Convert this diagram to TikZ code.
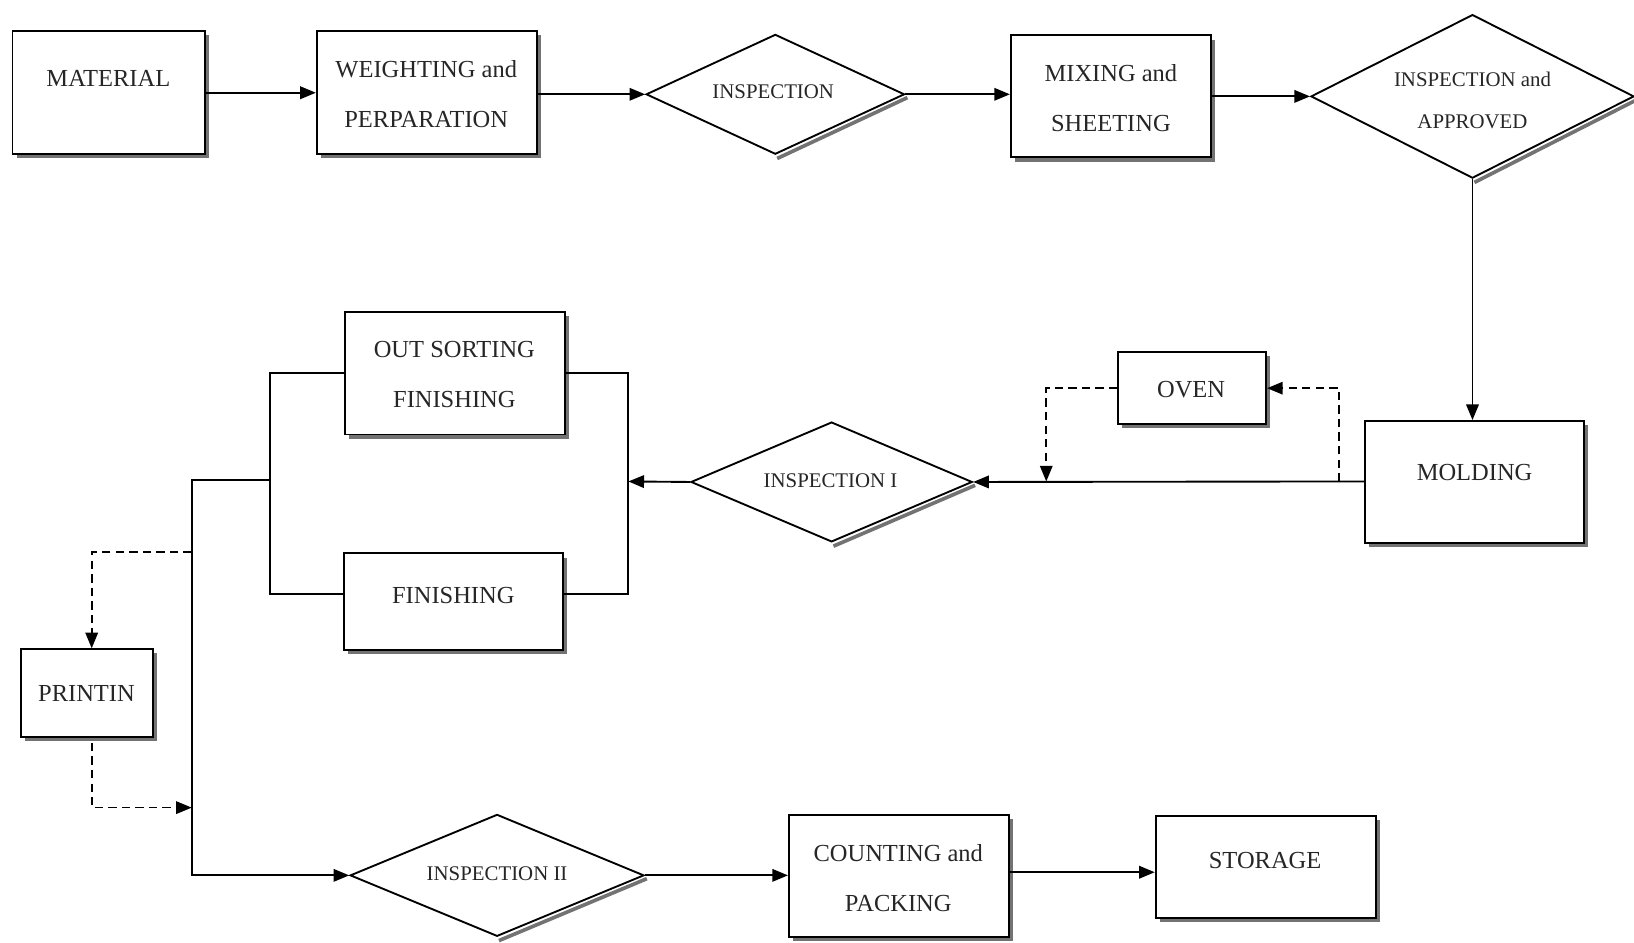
\documentclass[tikz,border=0pt]{standalone}
\usepackage{fontspec}
\setmainfont{Liberation Serif}
\usetikzlibrary{shapes.geometric,arrows.meta,shadows}
\begin{document}
\begin{tikzpicture}[x=1pt,y=-1pt,
  box/.style={rectangle, draw=black, line width=1.8pt, fill=white, inner sep=0pt,
    drop shadow={shadow xshift=4pt, shadow yshift=-4pt, fill=black!55, opacity=1}},
  dia/.style={diamond, draw=black, line width=1.8pt, fill=white, inner sep=0pt},
  btxt/.style={font=\fontsize{23.5}{48}\selectfont, align=center, inner sep=0pt, text=black!85},
  dtxt/.style={font=\fontsize{20}{41}\selectfont, align=center, inner sep=0pt, text=black!85},
  arr/.style={line width=1.8pt, -{Triangle[length=15pt,width=12pt]}},
  ln/.style={line width=1.8pt},
  dsh/.style={line width=1.6pt, dash pattern=on 8pt off 5pt},
  dsharr/.style={dsh, -{Triangle[length=15pt,width=12pt]}},
  shd/.style={line width=3.5pt, draw=black!55}]
\useasboundingbox (0,0) rectangle (1568,904);

% boxes
\node (material) [box, minimum width=185, minimum height=118] at (104.5,89) {};
\node (weigh)    [box, minimum width=211, minimum height=118] at (409.5,89) {};
\node (mix)      [box, minimum width=192, minimum height=117] at (1066,92.5) {};
\node (molding)  [box, minimum width=210, minimum height=117] at (1415,462.5) {};
\node (oven)     [box, minimum width=142, minimum height=69]  at (1144,372.5) {};
\node (outsort)  [box, minimum width=211, minimum height=118] at (436.5,358) {};
\node (finish)   [box, minimum width=210, minimum height=93]  at (435,577.5) {};
\node (printin)  [box, minimum width=127, minimum height=84]  at (83.5,665) {};
\node (count)    [box, minimum width=211, minimum height=117] at (862.5,840.5) {};
\node (storage)  [box, minimum width=211, minimum height=98]  at (1214.5,832) {};

% diamonds
\node (insp)    [dia, minimum width=248, minimum height=115] at (744,90.5) {};
\node (inspapp) [dia, minimum width=310, minimum height=157] at (1413,92.5) {};
\node (insp1)   [dia, minimum width=270, minimum height=115] at (798,462.5) {};
\node (insp2)   [dia, minimum width=282, minimum height=117] at (477,840) {};

% diamond shadows
\foreach \d in {insp,inspapp,insp1,insp2}
  \draw[shd] ([shift={(1.8pt,-3.2pt)}]\d.east) -- ([shift={(1.8pt,-3.2pt)}]\d.south);

% texts
\node (tmaterial) [btxt] at (104,75) {MATERIAL};
\node (tweigh)    [btxt] at (409,90) {WEIGHTING and\\PERPARATION};
\node (tmix)      [btxt] at (1066,94) {MIXING and\\SHEETING};
\node (tmolding)  [btxt] at (1415,453) {MOLDING};
\node (toven)     [btxt] at (1143,374) {OVEN};
\node (toutsort)  [btxt] at (436,359.5) {OUT SORTING\\FINISHING};
\node (tfinish)   [btxt] at (435,571) {FINISHING};
\node (tprintin)  [btxt] at (83,665) {PRINTIN};
\node (tcount)    [btxt] at (862,843) {COUNTING and\\PACKING};
\node (tstorage)  [btxt] at (1214,826) {STORAGE};
\node (tinsp)     [dtxt] at (742,88) {INSPECTION};
\node (tinspapp)  [dtxt] at (1413,96.5) {INSPECTION and\\APPROVED};
\node (tinsp1)    [dtxt] at (797,461) {INSPECTION I};
\node (tinsp2)    [dtxt] at (477,838) {INSPECTION II};

% junction coordinates
\coordinate (ovj1) at (1285,462);
\coordinate (ovj2) at (1004,462);
\coordinate (rbr)  at (603,462);
\coordinate (lbr)  at (259,461);
\coordinate (trunk) at (184,461);
\coordinate (pj1)  at (184,530);
\coordinate (pj2)  at (184,775);

% top row
\draw[arr] (material.east) -- (weigh.west);
\draw[arr] (weigh.east |- insp.west) -- (insp.west);
\draw[arr] (insp.east) -- (insp.east -| mix.west);
\draw[arr] (mix.east |- inspapp.west) -- (inspapp.west);
\draw[arr] (inspapp.south) -- (inspapp.south |- molding.north);

% molding to inspection I
\draw[arr] (molding.west |- ovj1) -- (insp1.east);
\draw[dsharr] (ovj1) |- (oven.east);
\draw[dsharr] (oven.west) -| (ovj2);
\draw[arr] (insp1.west) -- (rbr);

% brackets
\draw[ln] (outsort.east) -| (rbr) |- ([yshift=7.5pt]finish.east);
\draw[ln] (outsort.west) -| (lbr) |- ([yshift=7.5pt]finish.west);
\draw[arr] (lbr) -- (trunk) |- (insp2.west);

% printing loop
\draw[dsharr] (pj1) -| ([xshift=4.5pt]printin.north);
\draw[dsharr] ([xshift=4.5pt,yshift=-5pt]printin.south) |- (pj2);

% bottom row
\draw[arr] (insp2.east) -- (count.west |- insp2.east);
\draw[arr] ([yshift=3.5pt]count.east) -- ([yshift=3.5pt]count.east -| storage.west);
\end{tikzpicture}
\end{document}
